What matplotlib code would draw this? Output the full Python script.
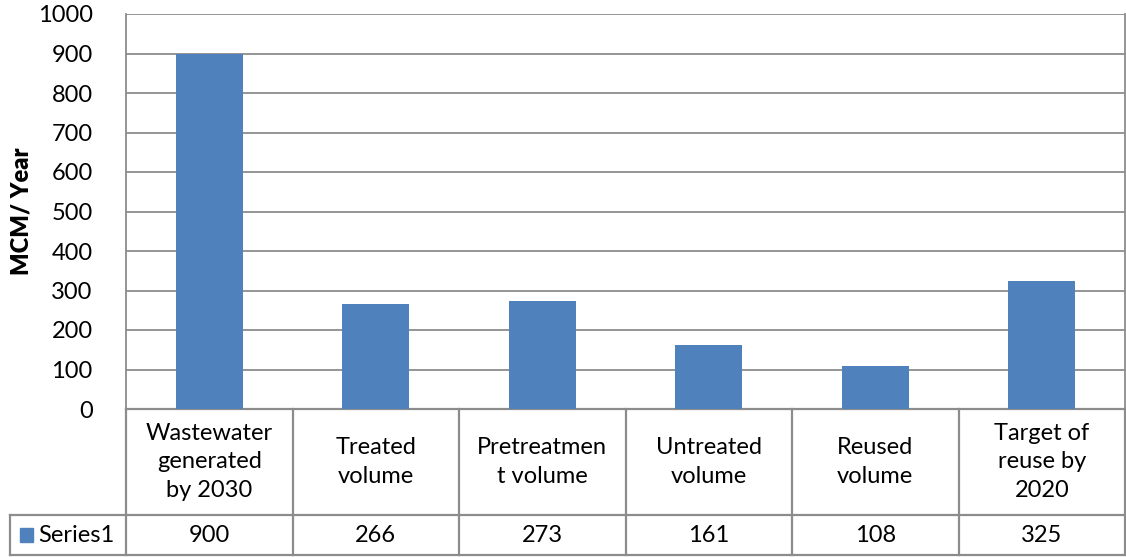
import matplotlib
matplotlib.use("Agg")
import matplotlib.pyplot as plt
from matplotlib.patches import Rectangle

# data
categories = ["Wastewater\ngenerated\nby 2030", "Treated\nvolume", "Pretreatmen\nt volume",
              "Untreated\nvolume", "Reused\nvolume", "Target of\nreuse by\n2020"]
values = [900, 266, 273, 161, 108, 325]
series_name = "Series1"
y_ticks = list(range(0, 1001, 100))

bar_color = "#4F81BD"
line_color = "#8C8C8C"
plt.rcParams['font.family'] = ['Lato', 'DejaVu Sans']
fs = 17

fig = plt.figure(figsize=(11.26, 5.57), dpi=100)
W, H = 1126, 557
ax = fig.add_axes([126 / W, 1 - 409 / H, 999 / W, 395 / H])

x = list(range(len(values)))
ax.bar(x, values, width=0.4, color=bar_color, zorder=3)
ax.set_xlim(-0.5, len(values) - 0.5)
ax.set_ylim(0, 1000)
ax.set_yticks(y_ticks)
ax.set_yticklabels([str(t) for t in y_ticks], fontsize=fs)
ax.set_xticks([])
ax.tick_params(axis='y', length=0, pad=24)
ax.grid(axis='y', color=line_color, linewidth=1.3, zorder=0)
for s in ['top', 'bottom']:
    ax.spines[s].set_visible(False)
ax.spines['left'].set_color(line_color)
ax.spines['left'].set_linewidth(1.3)
ax.spines['right'].set_color(line_color)
ax.spines['right'].set_linewidth(1.3)
ax.set_ylabel("MCM/ Year", fontsize=fs, fontweight='heavy', labelpad=4)

# data table below the plot
tr = ax.get_xaxis_transform()
y_mid = -(515 - 409) / 395
y_bot = -(555 - 409) / 395
x_left = -0.5 - 116 / (999 / len(values))
kw = dict(color=line_color, linewidth=1.6, clip_on=False, transform=tr)
ax.plot([-0.5, len(values) - 0.5], [0, 0], **kw)
ax.plot([x_left, len(values) - 0.5], [y_mid, y_mid], **kw)
ax.plot([x_left, len(values) - 0.5], [y_bot, y_bot], **kw)
ax.plot([x_left, x_left], [y_mid, y_bot], **kw)
for k in range(len(values) + 1):
    ax.plot([k - 0.5, k - 0.5], [0, y_bot], **kw)

for i, (c, v) in enumerate(zip(categories, values)):
    ax.text(i, y_mid / 2, c, transform=tr, ha='center', va='center',
            fontsize=fs, linespacing=1.45)
    ax.text(i, (y_mid + y_bot) / 2, str(v), transform=tr, ha='center',
            va='center', fontsize=fs)

ax.add_patch(Rectangle((x_left + 0.06, (y_mid + y_bot) / 2 - 0.018), 0.08, 0.036,
                       transform=tr, color=bar_color, clip_on=False))
ax.text(x_left + 0.17, (y_mid + y_bot) / 2, series_name, transform=tr,
        ha='left', va='center', fontsize=fs)

fig.savefig("out.png", dpi=100)
